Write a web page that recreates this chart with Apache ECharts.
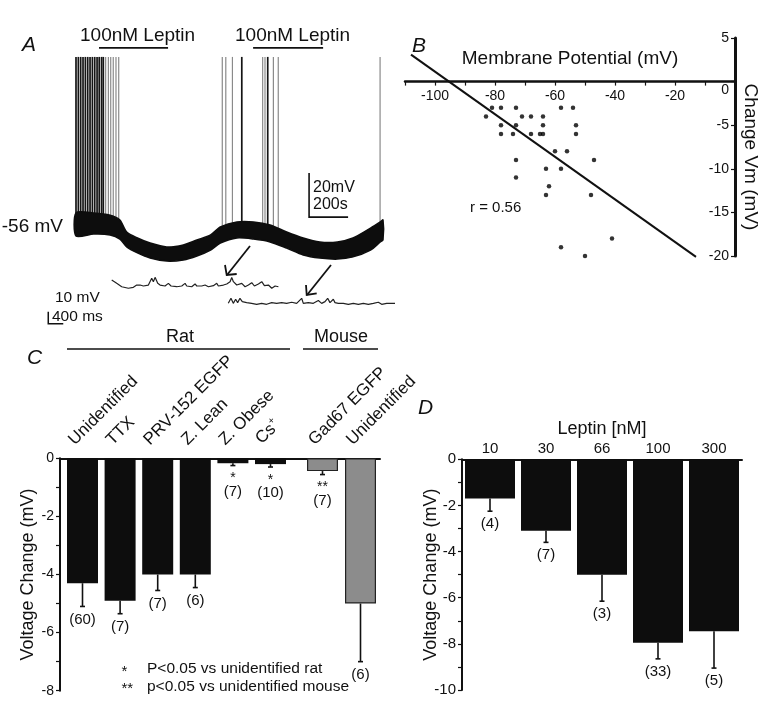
<!DOCTYPE html>
<html><head><meta charset="utf-8">
<script src="https://cdn.jsdelivr.net/npm/echarts@6/dist/echarts.min.js"></script>
<style>html,body{margin:0;padding:0;background:#fff}#c{width:779px;height:715px}</style>
</head><body><div id="c"></div>
<script>
// ---------- Panel A : recording ----------
const traceT      = [0, 90, 175, 225, 260, 315, 380, 465, 550, 620, 690, 740, 825, 910, 995, 1080, 1165, 1250, 1340, 1420, 1510, 1560, 1574];
const traceTop    = [-50.5, -50.5, -51.5, -53.7, -59.2, -61.9, -64.2, -66.0, -65.1, -62.8, -60.5, -56.9, -54.6, -54.6, -56.0, -59.2, -61.9, -63.7, -63.7, -61.9, -57.4, -54.6, -53.7];
const traceBottom = [-61.0, -60.1, -60.5, -62.4, -66.0, -68.7, -71.0, -72.4, -71.9, -70.1, -67.4, -64.2, -61.9, -62.4, -63.7, -66.5, -69.6, -71.0, -71.5, -70.5, -67.4, -63.7, -62.8];
const spikeDense  = [0, 12, 24, 36, 48, 60, 72, 84, 96, 108, 119, 131, 140, 850, 983];
const spikeSparse = [152, 166, 178, 191, 205, 219, 750, 768, 802, 957, 969, 1012, 1037, 1559];
const spikeBase = -58, spikePeak = 20.4;
const leptinPeriods = [[118, 472], [908, 1267]];
const leptinLevel = 24.5;
const scaleBarA = [[1195, -32.4], [1195, -52.4], [1395, -52.4]];
const inset1T = [0,44,133,267,444,578,667,711,756,844,978,1067,1111,1156,1227,1289,1422,1511,1582,1733,1867,1956,2000,2133,2222,2267,2400,2489,2578,2711,2800,2844,2978,3067,3156,3200,3244,3333,3467,3556,3644,3733,3804,3911,4000,4071,4178,4267,4356,4444];
const inset1V = [5.0,5.6,2.2,-0.6,-1.9,-1.1,0.8,2.2,0.8,0,0.8,6.4,3.6,7.2,2.2,0.8,0,2.2,0,-0.6,0,2.2,0,-0.6,1.7,0,0,0.8,-0.6,0.3,2.2,0,0.8,1.7,3.6,7.2,3.6,0.8,2.2,-0.6,0.8,2.8,0,1.7,3.6,0.3,0.8,-1.9,0,-0.6];
const inset2T = [0,71,133,196,249,311,373,489,622,756,889,1022,1156,1289,1422,1556,1689,1822,1956,2000,2133,2267,2400,2489,2578,2649,2711,2800,2844,2933,3067,3200,3333,3467,3600,3733,3867,4000,4089,4222,4356,4444];
const inset2V = [0.8,5.0,0.8,4.2,1.4,5.0,2.2,1.4,0.8,0,0.8,0,1.4,0.8,1.4,0.8,1.7,0.8,5.0,0.8,1.4,0.8,3.1,0.8,2.2,5.0,1.4,4.2,1.4,0.8,0.8,0,0.8,0,0.8,0,0.8,1.7,0,0.8,0.8,0.8];
const scaleBarInset = [[-1691, -21.4], [-1691, -31.4], [-1291, -31.4]];

// ---------- Panel B : scatter ----------
const bMembrane = [-81,-78,-73,-58,-54, -83,-71,-68,-64, -78,-73,-64,-53, -78,-74,-68,-65,-64,-53, -60,-56, -73,-47, -63,-58, -73, -62, -63,-48, -41, -58, -50];
const bChange   = [-3,-3,-3,-3,-3, -4,-4,-4,-4, -5,-5,-5,-5, -6,-6,-6,-6,-6,-6, -8,-8, -9,-9, -10,-10, -11, -12, -13,-13, -18, -19, -20];
const bFit = [[-108, 3.1], [-13, -20.1]];
const bXTicks = [-100, -80, -60, -40, -20];

// ---------- Panel C ----------
const ratCategories = ['Unidentified', 'TTX', 'PRV-152 EGFP', 'Z. Lean', 'Z. Obese', 'Cs+'];
const ratValues = [-4.3, -4.9, -4.0, -4.0, -0.17, -0.2];
const ratErr    = [-5.1, -5.35, -4.55, -4.45, -0.25, -0.3];
const ratN      = ['(60)', '(7)', '(7)', '(6)', '(7)', '(10)'];
const ratSig    = ['', '', '', '', '*', '*'];
const mouseCategories = ['Gad67 EGFP', 'Unidentified'];
const mouseValues = [-0.44, -5.0];
const mouseErr    = [-0.56, -7.0];
const mouseN      = ['(7)', '(6)'];
const mouseSig    = ['**', ''];

// ---------- Panel D ----------
const doseLabels = ['10', '30', '66', '100', '300'];
const doseValues = [-1.7, -3.1, -5.0, -7.95, -7.45];
const doseErr    = [-2.25, -3.6, -6.15, -8.65, -9.05];
const doseN      = ['(4)', '(7)', '(3)', '(33)', '(5)'];

const FF = '"Liberation Sans", Arial, sans-serif';
const INK = '#111';
const chart = echarts.init(document.getElementById('c'), null, {width: 779, height: 715});

function font(size, italic) { return (italic ? 'italic ' : '') + size + 'px ' + FF; }
function txt(s, x, y, size, align, italic) {
  return {type: 'text', x: x, y: y, z: 10, style: {text: s, font: font(size, italic), fill: INK,
    textAlign: align || 'left', align: align || 'left', textVerticalAlign: 'middle', verticalAlign: 'middle'}};
}
function seg(points, w) {
  return {type: 'polyline', z: 10, shape: {points: points}, style: {stroke: INK, lineWidth: w || 1.5, fill: null}};
}
function hidden(grid, min, max) {
  return {gridIndex: grid, type: 'value', min: min, max: max, show: false, splitLine: {show: false}};
}
function spikeSeries(times, color, width) {
  return {type: 'custom', xAxisIndex: 0, yAxisIndex: 0, z: 2,
    data: times.map(t => [t, spikeBase, spikePeak]),
    renderItem: (p, api) => {
      const a = api.coord([api.value(0), api.value(1)]);
      const b = api.coord([api.value(0), api.value(2)]);
      return {type: 'line', shape: {x1: a[0], y1: a[1], x2: b[0], y2: b[1]}, style: {stroke: color, lineWidth: width}};
    }};
}
function pathSeries(axis, pts, w) {
  return {type: 'custom', xAxisIndex: axis, yAxisIndex: axis, z: 4,
    data: [pts[0]],
    renderItem: (p, api) => ({type: 'polyline', shape: {points: pts.map(q => api.coord(q))},
      style: {stroke: INK, lineWidth: w, fill: null}})};
}
function errSeries(axis, values, errs, ns, sigs) {
  return {type: 'custom', xAxisIndex: axis, yAxisIndex: axis, z: 5,
    data: values.map((v, i) => [i, v, errs[i]]),
    renderItem: (p, api) => {
      const i = api.value(0);
      const a = api.coord([i, api.value(1)]);
      const b = api.coord([i, api.value(2)]);
      const ch = [
        {type: 'line', shape: {x1: a[0], y1: a[1], x2: b[0], y2: b[1]}, style: {stroke: INK, lineWidth: 1.6}},
        {type: 'line', shape: {x1: b[0] - 2.5, y1: b[1], x2: b[0] + 2.5, y2: b[1]}, style: {stroke: INK, lineWidth: 1.6}}
      ];
      const sig = sigs ? sigs[p.dataIndex] : '';
      let off = 13;
      if (sig) {
        ch.push({type: 'text', style: {text: sig, x: b[0], y: b[1] + 13, font: font(14), fill: INK, align: 'center', verticalAlign: 'middle'}});
        off = 26;
      }
      ch.push({type: 'text', style: {text: ns[p.dataIndex], x: b[0], y: b[1] + off, font: font(15), fill: INK, align: 'center', verticalAlign: 'middle'}});
      return {type: 'group', children: ch};
    }};
}
const axisLineStyle = w => ({show: true, onZero: false, lineStyle: {color: INK, width: w}});

const option = {
  backgroundColor: '#fff',
  animation: false,
  grid: [
    {left: 76, top: 44.6, width: 307, height: 275, outerBoundsMode: 'none'},
    {left: 111.7, top: 274, width: 166.7, height: 18, outerBoundsMode: 'none'},
    {left: 228.3, top: 292.3, width: 166.7, height: 18, outerBoundsMode: 'none'},
    {left: 405, top: 38, width: 330, height: 218, outerBoundsMode: 'none'},
    {left: 60, top: 458.3, width: 320, height: 232.4, outerBoundsMode: 'none'},
    {left: 63.7, top: 458.3, width: 225.6, height: 232.4, outerBoundsMode: 'none'},
    {left: 303.5, top: 458.3, width: 76, height: 232.4, outerBoundsMode: 'none'},
    {left: 462, top: 459.3, width: 280, height: 230.7, outerBoundsMode: 'none'}
  ],
  xAxis: [
    hidden(0, 0, 1574),
    hidden(1, 0, 4444),
    hidden(2, 0, 4444),
    {gridIndex: 3, type: 'value', min: -110, max: 0, interval: 10, position: 'bottom', offset: -174.4,
     axisLine: axisLineStyle(2.5), splitLine: {show: false},
     axisTick: {show: true, length: 4, lineStyle: {color: INK, width: 1.2}},
     axisLabel: {color: INK, fontFamily: FF, fontSize: 14, margin: 8,
       formatter: v => bXTicks.indexOf(v) >= 0 ? String(v) : ''},
     name: 'Membrane Potential (mV)', nameLocation: 'middle', nameGap: -32, nameMoveOverlap: false,
     nameTextStyle: {color: INK, fontFamily: FF, fontSize: 19}},
    {gridIndex: 4, type: 'value', min: 0, max: 1, position: 'top', axisLine: axisLineStyle(2),
     axisTick: {show: false}, axisLabel: {show: false}, splitLine: {show: false}},
    {gridIndex: 5, type: 'category', data: ratCategories, position: 'top',
     axisLine: {show: false}, axisTick: {show: false},
     axisLabel: {interval: 0, rotate: 45, margin: 5, color: INK, fontFamily: FF, fontSize: 17,
       verticalAlign: 'bottom', padding: [0, 0, 7, 0],
       formatter: v => v === 'Cs+' ? 'Cs{sup|+}' : v,
       rich: {sup: {fontSize: 10, fontFamily: FF, color: INK, padding: [0, 0, 10, 0]}}}},
    {gridIndex: 6, type: 'category', data: mouseCategories, position: 'top',
     axisLine: {show: false}, axisTick: {show: false},
     axisLabel: {interval: 0, rotate: 45, margin: 5, color: INK, fontFamily: FF, fontSize: 17,
       verticalAlign: 'bottom', padding: [0, 0, 7, 0]}},
    {gridIndex: 7, type: 'category', data: doseLabels, position: 'top',
     axisLine: axisLineStyle(2), axisTick: {show: false},
     axisLabel: {interval: 0, margin: 3, color: INK, fontFamily: FF, fontSize: 15},
     name: 'Leptin [nM]', nameLocation: 'middle', nameGap: 21, nameMoveOverlap: false,
     nameTextStyle: {color: INK, fontFamily: FF, fontSize: 18}}
  ],
  yAxis: [
    hidden(0, -99, 26),
    hidden(1, -5, 10),
    hidden(2, -5, 10),
    {gridIndex: 3, type: 'value', min: -20, max: 5, interval: 5, position: 'right',
     axisLine: {show: true, onZero: false, lineStyle: {color: INK, width: 3}}, splitLine: {show: false},
     axisTick: {show: true, inside: true, length: 4, lineStyle: {color: INK, width: 1.2}},
     axisLabel: {inside: true, margin: 6, color: INK, fontFamily: FF, fontSize: 14,
       formatter: v => v === 0 ? '{z|0}' : String(v),
       rich: {z: {fontFamily: FF, fontSize: 14, color: INK, padding: [18, 0, 0, 0]}}},
     name: 'Change Vm (mV)', nameLocation: 'middle', nameGap: 6, nameRotate: -90, nameMoveOverlap: false,
     nameTextStyle: {color: INK, fontFamily: FF, fontSize: 19, padding: [0, 0, 0, 20]}},
    {gridIndex: 4, type: 'value', min: -8, max: 0, interval: 1,
     axisLine: {show: true, onZero: false, lineStyle: {color: INK, width: 2}}, splitLine: {show: false},
     axisTick: {show: true, length: 4, lineStyle: {color: INK, width: 1.2}},
     axisLabel: {color: INK, fontFamily: FF, fontSize: 14, margin: 6,
       formatter: v => v % 2 === 0 ? String(v) : ''},
     name: 'Voltage Change (mV)', nameLocation: 'middle', nameGap: 23, nameMoveOverlap: false,
     nameTextStyle: {color: INK, fontFamily: FF, fontSize: 18}},
    hidden(5, -8, 0),
    hidden(6, -8, 0),
    {gridIndex: 7, type: 'value', min: -10, max: 0, interval: 1,
     axisLine: {show: true, onZero: false, lineStyle: {color: INK, width: 2}}, splitLine: {show: false},
     axisTick: {show: true, length: 4, lineStyle: {color: INK, width: 1.2}},
     axisLabel: {color: INK, fontFamily: FF, fontSize: 15, margin: 6,
       formatter: v => v % 2 === 0 ? String(v) : ''},
     name: 'Voltage Change (mV)', nameLocation: 'middle', nameGap: 22, nameMoveOverlap: false,
     nameTextStyle: {color: INK, fontFamily: FF, fontSize: 18}}
  ],
  series: [
    spikeSeries(spikeDense, '#151515', 1.7),
    spikeSeries(spikeSparse, '#8a8a8a', 1.2),
    {type: 'custom', xAxisIndex: 0, yAxisIndex: 0, z: 3,
     data: [[traceT[0], traceTop[0]]],
     renderItem: (p, api) => {
       const top = traceT.map((t, i) => api.coord([t, traceTop[i]]));
       const bot = traceT.map((t, i) => api.coord([t, traceBottom[i]])).reverse();
       return {type: 'polygon', shape: {points: top.concat(bot), smooth: 0.25},
               style: {fill: '#0d0d0d', stroke: '#0d0d0d', lineWidth: 1.5}};
     }},
    {type: 'custom', xAxisIndex: 0, yAxisIndex: 0, z: 3,
     data: leptinPeriods.map(d => [d[0], d[1], leptinLevel]),
     renderItem: (p, api) => {
       const a = api.coord([api.value(0), api.value(2)]);
       const b = api.coord([api.value(1), api.value(2)]);
       return {type: 'line', shape: {x1: a[0], y1: a[1], x2: b[0], y2: b[1]}, style: {stroke: INK, lineWidth: 1.6}};
     }},
    pathSeries(0, scaleBarA, 1.6),
    {type: 'line', xAxisIndex: 1, yAxisIndex: 1, data: inset1T.map((t, i) => [t, inset1V[i]]), clip: false,
     symbol: 'none', lineStyle: {color: '#222', width: 1.2}},
    {type: 'line', xAxisIndex: 2, yAxisIndex: 2, data: inset2T.map((t, i) => [t, inset2V[i]]), clip: false,
     symbol: 'none', lineStyle: {color: '#222', width: 1.2}},
    pathSeries(1, scaleBarInset, 1.5),
    // B
    {type: 'scatter', xAxisIndex: 3, yAxisIndex: 3, symbolSize: 4.5,
     itemStyle: {color: '#000'}, data: bMembrane.map((m, i) => [m, bChange[i]])},
    {type: 'line', xAxisIndex: 3, yAxisIndex: 3, data: bFit, clip: false, symbol: 'none',
     lineStyle: {color: INK, width: 2}},
    // C
    {type: 'bar', xAxisIndex: 5, yAxisIndex: 5, data: ratValues, barWidth: 31,
     itemStyle: {color: '#0d0d0d'}},
    errSeries(5, ratValues, ratErr, ratN, ratSig),
    {type: 'bar', xAxisIndex: 6, yAxisIndex: 6, data: mouseValues, barWidth: 31,
     itemStyle: {color: '#8c8c8c', borderColor: '#222', borderWidth: 1.2}},
    errSeries(6, mouseValues, mouseErr, mouseN, mouseSig),
    // D
    {type: 'bar', xAxisIndex: 7, yAxisIndex: 7, data: doseValues, barWidth: 50,
     itemStyle: {color: '#0d0d0d'}},
    errSeries(7, doseValues, doseErr, doseN, null)
  ],
  graphic: [
    txt('A', 22, 45, 21, 'left', true),
    txt('100nM Leptin', 80, 36, 19),
    txt('100nM Leptin', 235, 36, 19),
    txt('-56 mV', 63, 227, 19, 'right'),
    txt('20mV', 313, 188, 16),
    txt('200s', 313, 205, 16),
    txt('10 mV', 55, 298, 15.5),
    txt('400 ms', 52, 317, 15.5),
    seg([[250, 246], [227, 275]], 1.8),
    seg([[225, 265], [226.7, 275], [236.7, 274]], 1.8),
    seg([[331, 265], [307, 295]], 1.8),
    seg([[306, 285], [306.7, 295], [316.7, 293.3]], 1.8),
    txt('B', 412, 46, 21, 'left', true),
    txt('r = 0.56', 470, 208, 15),
    txt('C', 27, 358, 21, 'left', true),
    txt('Rat', 180, 337, 18, 'center'),
    txt('Mouse', 341, 337, 18, 'center'),
    seg([[67, 349], [290, 349]], 1.5),
    seg([[303, 349], [378, 349]], 1.5),
    txt('*', 121.5, 672, 15),
    txt('P<0.05 vs unidentified rat', 147, 669, 15.5),
    txt('**', 121.5, 689, 15),
    txt('p<0.05 vs unidentified mouse', 147, 687, 15.5),
    txt('D', 418, 408, 21, 'left', true)
  ]
};
chart.setOption(option);
</script></body></html>
